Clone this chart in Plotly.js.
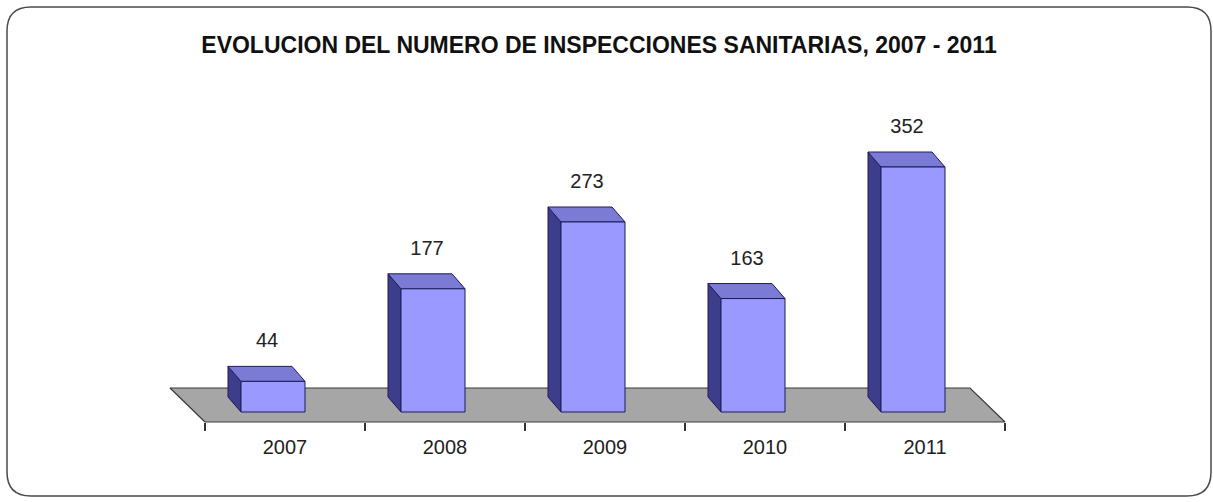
<!DOCTYPE html>
<html>
<head>
<meta charset="utf-8">
<script src="https://cdn.plot.ly/plotly-3.0.1.min.js"></script>
<style>
  html, body { margin: 0; padding: 0; background: #ffffff; }
  #chart { width: 1213px; height: 502px; }
</style>
</head>
<body>
<div id="chart"></div>
<script>
// ---- data ----
const categories = ['2007', '2008', '2009', '2010', '2011'];
const values = [44, 177, 273, 163, 352];
const chartTitle = 'EVOLUCION DEL NUMERO DE INSPECCIONES SANITARIAS, 2007 - 2011';

// ---- geometry / style constants (pixels) ----
const W = 1213, H = 502;
const MB = 60;                 // bottom margin
const PLOT_H = H - MB;         // plot area height (top margin 0)
const X0PX = 285, XS = 160;    // pixel of category 0, pixels per category
const Y0PX = 412, YS = 0.696;  // pixel of value 0, pixels per unit
const FLOOR_FRONT_PX = 422;    // floor front edge pixel
const FLOOR_BACK_PX = 388;     // floor back edge pixel
const FLOOR_SHIFT_PX = 35;     // floor back edge shifted left
const BAR_W_PX = 64, BAR_OFF_PX = -12;
const DEPTH_DX_PX = -13, DEPTH_DY_PX = 15;
const LABEL_DX_PX = -18, LABEL_DY_PX = 39;

const pxX = p => p / XS;   // pixel length -> x units
const pxY = p => p / YS;   // pixel length -> y units

const xRange = [-X0PX / XS, (W - X0PX) / XS];
const yRange = [-(PLOT_H - Y0PX) / YS, Y0PX / YS];

const traces = [];

// floor
const fFront = -pxY(FLOOR_FRONT_PX - Y0PX);
const fBack = pxY(Y0PX - FLOOR_BACK_PX);
const fL = -0.5, fR = categories.length - 0.5, fS = pxX(FLOOR_SHIFT_PX);
traces.push({
  type: 'scatter', mode: 'lines', fill: 'toself', hoverinfo: 'skip',
  x: [fL, fR, fR - fS, fL - fS, fL],
  y: [fFront, fFront, fBack, fBack, fFront],
  fillcolor: '#a6a6a6', line: { color: '#3a3a3a', width: 1.2 }
});

const edge = { color: '#1c1c5c', width: 1 };
const ddx = pxX(DEPTH_DX_PX), ddy = pxY(DEPTH_DY_PX);
categories.forEach((c, i) => {
  const v = values[i];
  const xl = i + pxX(BAR_OFF_PX) - pxX(BAR_W_PX) / 2;
  const xr = i + pxX(BAR_OFF_PX) + pxX(BAR_W_PX) / 2;
  // side (left) face
  traces.push({
    type: 'scatter', mode: 'lines', fill: 'toself', hoverinfo: 'skip',
    x: [xl, xl, xl + ddx, xl + ddx, xl],
    y: [0, v, v + ddy, ddy, 0],
    fillcolor: '#3d3d8c', line: edge
  });
  // top face
  traces.push({
    type: 'scatter', mode: 'lines', fill: 'toself', hoverinfo: 'skip',
    x: [xl, xr, xr + ddx, xl + ddx, xl],
    y: [v, v, v + ddy, v + ddy, v],
    fillcolor: '#7b7bd6', line: edge
  });
  // front face
  traces.push({
    type: 'scatter', mode: 'lines', fill: 'toself', hoverinfo: 'skip',
    x: [xl, xr, xr, xl, xl],
    y: [0, 0, v, v, 0],
    fillcolor: '#9999ff', line: edge
  });
});

// data labels
traces.push({
  type: 'scatter', mode: 'text', hoverinfo: 'skip',
  x: categories.map((c, i) => i + pxX(LABEL_DX_PX)),
  y: values.map(v => v + pxY(LABEL_DY_PX)),
  text: values.map(String),
  textposition: 'middle center',
  textfont: { family: 'Liberation Sans, Arial, sans-serif', size: 20, color: '#222222' },
  cliponaxis: false
});

// dummy trace for boundary-tick axis
traces.push({ type: 'scatter', mode: 'markers', x: [0], y: [0], xaxis: 'x2',
  marker: { opacity: 0 }, hoverinfo: 'skip' });

const axisPos = (PLOT_H - FLOOR_FRONT_PX) / PLOT_H;

// rounded frame in paper coordinates
const bx0 = 7, by0 = 7, bx1 = 1211, by1 = 496, r = 24;
const PX = p => (p / W);
const PY = p => ((PLOT_H - p) / PLOT_H);
const framePath =
  `M ${PX(bx0 + r)},${PY(by0)} L ${PX(bx1 - r)},${PY(by0)} ` +
  `Q ${PX(bx1)},${PY(by0)} ${PX(bx1)},${PY(by0 + r)} ` +
  `L ${PX(bx1)},${PY(by1 - r)} Q ${PX(bx1)},${PY(by1)} ${PX(bx1 - r)},${PY(by1)} ` +
  `L ${PX(bx0 + r)},${PY(by1)} Q ${PX(bx0)},${PY(by1)} ${PX(bx0)},${PY(by1 - r)} ` +
  `L ${PX(bx0)},${PY(by0 + r)} Q ${PX(bx0)},${PY(by0)} ${PX(bx0 + r)},${PY(by0)} Z`;

const layout = {
  width: W, height: H,
  margin: { l: 0, r: 0, t: 0, b: MB, pad: 0 },
  paper_bgcolor: '#ffffff', plot_bgcolor: 'rgba(0,0,0,0)',
  showlegend: false,
  title: {
    text: '<b>' + chartTitle + '</b>',
    x: 599 / W, xanchor: 'center', xref: 'container',
    y: 1 - 45 / H, yanchor: 'middle', yref: 'container',
    font: { family: 'Liberation Sans, Arial, sans-serif', size: 23, color: '#111111' }
  },
  xaxis: {
    range: xRange, anchor: 'free', position: axisPos,
    tickvals: categories.map((c, i) => i), ticktext: categories,
    ticks: 'outside', ticklen: 7, tickcolor: 'rgba(0,0,0,0)',
    showgrid: false, zeroline: false, showline: false,
    tickfont: { family: 'Liberation Sans, Arial, sans-serif', size: 20, color: '#222222' },
    fixedrange: true
  },
  xaxis2: {
    range: xRange, overlaying: 'x', anchor: 'free', position: axisPos, side: 'bottom',
    tickvals: categories.concat(['end']).map((c, i) => i - 0.5),
    ticks: 'outside', ticklen: 8, tickwidth: 1.2, tickcolor: '#333333',
    showticklabels: false, showgrid: false, zeroline: false, showline: false,
    fixedrange: true
  },
  yaxis: { range: yRange, visible: false, showgrid: false, zeroline: false, fixedrange: true },
  shapes: [{
    type: 'path', xref: 'paper', yref: 'paper', path: framePath,
    line: { color: '#4a4a4a', width: 1.5 }, fillcolor: 'rgba(0,0,0,0)', layer: 'above'
  }]
};

Plotly.newPlot('chart', traces, layout, { displayModeBar: false, staticPlot: true });
</script>
</body>
</html>
